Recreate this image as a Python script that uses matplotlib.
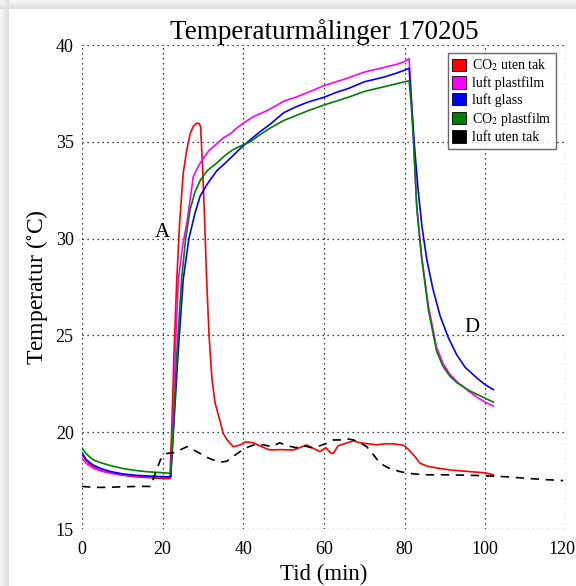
import numpy as np
import matplotlib
matplotlib.use("Agg")
import matplotlib.pyplot as plt
import matplotlib.transforms as mtransforms
from matplotlib.patches import Patch

plt.rcParams['font.family'] = ['Liberation Serif', 'DejaVu Serif']
plt.rcParams['mathtext.fontset'] = 'stix'

# ---- data ----
red_x = [0, 1, 2, 3, 5, 7, 10, 13, 16, 19, 21.8, 22.3, 22.8, 23.5, 24.2, 25.1, 26, 26.8, 27.6, 28.4,
         29.0, 29.4, 29.9, 30.4, 30.9, 31.5, 32.2, 33, 34.2, 35, 36, 37.5, 39.2, 40.5, 42.5, 44, 46.6,
         49, 52.4, 55.7, 57, 59, 60.5, 61.5, 62.3, 63.5, 65, 67.3, 69, 71, 73, 75, 77, 79.7, 81, 82.5,
         83.8, 85.5, 88, 91.2, 94, 97, 100, 102]
red_y = [18.85, 18.55, 18.35, 18.2, 18.0, 17.9, 17.78, 17.7, 17.66, 17.62, 17.6, 20.5, 24.0, 27.9, 30.8,
         33.4, 34.6, 35.4, 35.8, 35.96, 35.95, 35.8, 33.7, 31.0, 27.9, 25.0, 22.8, 21.5, 20.6, 19.94,
         19.6, 19.25, 19.34, 19.5, 19.46, 19.3, 19.08, 19.1, 19.08, 19.34, 19.2, 19.0, 19.2, 18.95, 18.9,
         19.3, 19.4, 19.55, 19.45, 19.4, 19.35, 19.4, 19.4, 19.33, 19.1, 18.75, 18.4, 18.25, 18.15,
         18.05, 18.0, 17.95, 17.9, 17.8]

pink_x = [0, 1, 2, 3, 5, 7, 10, 13, 16, 19, 22, 22.6, 23.2, 23.9, 25, 26, 27.6, 29, 30.1, 31.5, 33.4,
          35, 36.7, 38, 40, 42.5, 45.8, 48, 50, 53, 56, 60, 63, 66, 70, 72, 75, 78, 80, 81.1,
          81.6, 82.2, 83, 84.2, 85.9, 87.9, 89.5, 91.2, 93, 94.5, 96, 98, 100, 102]
pink_y = [18.65, 18.4, 18.25, 18.12, 17.98, 17.88, 17.8, 17.75, 17.72, 17.7, 17.68, 21.0, 24.5, 27.9,
          29.7, 30.8, 33.2, 33.8, 34.15, 34.55, 34.9, 35.2, 35.4, 35.65, 35.96, 36.3, 36.6, 36.85,
          37.1, 37.3, 37.55, 37.9, 38.1, 38.3, 38.6, 38.7, 38.85, 39.0, 39.15, 39.3,
          37.5, 35.1, 31.65, 29.1, 26.5, 24.4, 23.55, 23.0, 22.6, 22.35, 22.1, 21.8, 21.55, 21.35]

blue_x = [0, 1, 2, 3, 5, 7, 10, 13, 16, 19, 22, 22.8, 23.8, 25.1, 26.5, 28, 29.3, 31, 33.4, 35.5,
          37.5, 39.5, 41.7, 44, 46.6, 50, 53, 56, 60, 63, 66, 70, 72, 75, 78, 80, 81.1,
          81.7, 82.5, 83.3, 84.3, 85.5, 87, 88.8, 90.8, 92.9, 95, 97.9, 100, 102]
blue_y = [18.94, 18.6, 18.42, 18.28, 18.1, 17.97, 17.85, 17.78, 17.74, 17.71, 17.69, 20.5, 24.0, 27.9,
          30.0, 31.3, 32.2, 32.8, 33.5, 33.9, 34.3, 34.7, 35.1, 35.5, 35.9, 36.5, 36.8, 37.05, 37.3,
          37.55, 37.75, 38.1, 38.2, 38.35, 38.55, 38.7, 38.8,
          37.0, 34.6, 32.6, 30.6, 28.9, 27.4, 26.0, 24.9, 24.0, 23.35, 22.8, 22.45, 22.2]

green_x = [0, 1, 2, 3, 5, 7, 10, 13, 16, 19, 22, 22.7, 23.5, 24.7, 25.7, 26.8, 28, 29.3, 31, 33.4,
           35.5, 37.5, 39.5, 41.7, 44, 46.6, 50, 53, 56, 60, 63, 66, 70, 72, 75, 78, 80, 81.1,
           81.6, 82.2, 83, 84.2, 85.9, 87.9, 89.5, 91.2, 93, 94.5, 96, 98, 100, 102]
green_y = [19.17, 18.9, 18.7, 18.55, 18.4, 18.28, 18.13, 18.03, 17.96, 17.92, 17.88, 20.5, 24.0, 27.9,
           30.0, 31.5, 32.4, 33.0, 33.5, 33.9, 34.3, 34.6, 34.8, 35.0, 35.35, 35.7, 36.1, 36.35, 36.6,
           36.9, 37.1, 37.3, 37.6, 37.7, 37.85, 38.0, 38.1, 38.15,
           37.0, 35.0, 31.6, 29.0, 26.3, 24.2, 23.4, 22.9, 22.55, 22.35, 22.15, 21.95, 21.75, 21.55]

black_x = [0, 3, 6, 10, 14, 16.9, 17.7, 18.5, 19.5, 21, 23, 24.5, 26, 27.5, 29.3, 31, 32.6, 34.3,
           35.9, 37.5, 39.2, 40.8, 42.5, 45, 47, 49, 51, 53, 55, 57, 59, 61, 62.3, 64, 66, 67.3, 69,
           70.6, 72, 73.9, 76, 78.9, 82, 85.5, 90, 95, 100, 105, 110, 115, 119.3]
black_y = [17.2, 17.15, 17.15, 17.18, 17.2, 17.2, 17.6, 18.05, 18.6, 18.9, 18.95, 19.1, 19.25, 19.1,
           18.9, 18.7, 18.56, 18.45, 18.5, 18.75, 19.0, 19.2, 19.34, 19.35, 19.25, 19.45, 19.3, 19.2,
           19.3, 19.2, 19.3, 19.45, 19.6, 19.6, 19.65, 19.6, 19.45, 19.25, 18.9, 18.4, 18.15, 17.96,
           17.85, 17.8, 17.8, 17.78, 17.75, 17.7, 17.62, 17.55, 17.5]

labels = ['CO$_2$ uten tak', 'luft plastfilm', 'luft glass', 'CO$_2$ plastfilm', 'luft uten tak']
colors = ['#ff0000', '#ff00ff', '#0000ff', '#008000', '#000000']

x_ticks = [0, 20, 40, 60, 80, 100, 120]
y_ticks = [15, 20, 25, 30, 35, 40]

# ---- figure ----
W, H = 576, 586
fig = plt.figure(figsize=(W / 100, H / 100), dpi=100)

# window shadow background
bg = fig.add_axes([0, 0, 1, 1], zorder=-10)
img = np.ones((H, W, 3))
sh = 9
for i in range(sh):
    v = 0.97 - 0.10 * i / (sh - 1)
    img[i, :, :] = np.minimum(img[i, :, :], v)
    img[:, i, :] = np.minimum(img[:, i, :], v)
bg.imshow(img, extent=[0, W, 0, H], aspect='auto', interpolation='nearest')
bg.set_axis_off()

ax = fig.add_axes([82 / W, (H - 529) / H, 484 / W, 484 / H])
ax.set_facecolor('none')

ax.plot(red_x, red_y, color=colors[0], lw=1.2)
ax.plot(pink_x, pink_y, color=colors[1], lw=1.2)
ax.plot(blue_x, blue_y, color=colors[2], lw=1.2)
ax.plot(green_x, green_y, color=colors[3], lw=1.2)
ax.plot(black_x, black_y, color=colors[4], lw=1.2, ls=(0, (5, 4)))

ax.set_xlim(0, 120)
ax.set_ylim(15, 40)
ax.set_xticks(x_ticks)
ax.set_yticks(y_ticks)
ax.tick_params(length=0, labelsize=13)
ax.tick_params(axis='x', pad=9)
ax.tick_params(axis='y', pad=6)
for s in ax.spines.values():
    s.set_visible(False)
ax.grid(True, color='black', ls=(0, (1, 3)), lw=0.9)

# keep the last x tick label inside the figure
lbl = ax.get_xticklabels()[-1]
lbl.set_transform(lbl.get_transform() + mtransforms.ScaledTranslation(-4 / 100, 0, fig.dpi_scale_trans))

ax.set_title('Temperaturmålinger 170205', fontsize=19.5, pad=2)
ax.set_xlabel('Tid (min)', fontsize=16.5, labelpad=4)
ax.set_ylabel(r'Temperatur ($^{\circ}$C)', fontsize=17, labelpad=4)

ax.text(19.8, 30.3, 'A', fontsize=15, ha='center', va='center')
ax.text(96.7, 25.4, 'D', fontsize=15, ha='center', va='center')

handles = [Patch(facecolor=c, edgecolor='black', lw=0.6) for c in colors]
leg = ax.legend(handles, labels, loc='upper right', fontsize=10, frameon=True, fancybox=False,
                handlelength=1.0, handleheight=1.0, handletextpad=0.4, labelspacing=0.2,
                borderpad=0.35, borderaxespad=0, bbox_to_anchor=(0.98, 0.984))
leg.get_frame().set_edgecolor('#444444')
leg.get_frame().set_linewidth(1.0)

fig.savefig('out.png', dpi=100)
